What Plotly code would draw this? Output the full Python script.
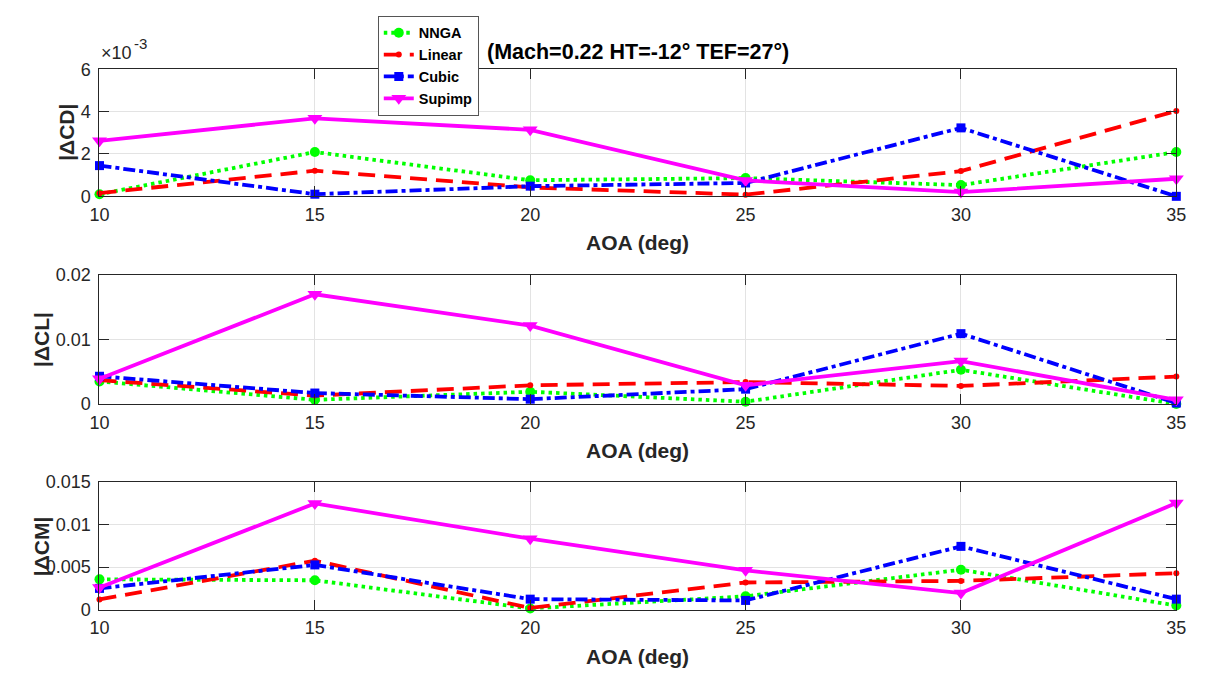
import plotly.graph_objects as go
from plotly.subplots import make_subplots

# ---------------- data ----------------
aoa = [10, 15, 20, 25, 30, 35]
series_names = ["NNGA", "Linear", "Cubic", "Supimp"]

nnga_cd = [0.00010, 0.00209, 0.00076, 0.00086, 0.00053, 0.00209]
linear_cd = [0.00015, 0.00121, 0.00042, 0.00008, 0.00119, 0.00403]
cubic_cd = [0.00145, 0.00010, 0.00048, 0.00063, 0.00323, 0.00000]
supimp_cd = [0.00262, 0.00368, 0.00314, 0.00075, 0.00020, 0.00083]

nnga_cl = [0.0035, 0.00065, 0.0019, 0.00035, 0.0053, 0.0000]
linear_cl = [0.0037, 0.0013, 0.0029, 0.0034, 0.0028, 0.00425]
cubic_cl = [0.0043, 0.0017, 0.00075, 0.0023, 0.0109, 0.00015]
supimp_cl = [0.0039, 0.0170, 0.01215, 0.0029, 0.00665, 0.00065]

nnga_cm = [0.00356, 0.00345, 0.00015, 0.00157, 0.00469, 0.00049]
linear_cm = [0.00120, 0.00574, 0.00020, 0.00319, 0.00338, 0.00428]
cubic_cm = [0.00250, 0.00525, 0.00124, 0.00109, 0.00742, 0.00124]
supimp_cm = [0.00260, 0.01245, 0.00832, 0.00461, 0.00195, 0.01249]

x_ticks = [10, 15, 20, 25, 30, 35]
cd_tickvals = [0, 0.002, 0.004, 0.006]
cd_ticktext = ["0", "2", "4", "6"]
cl_tickvals = [0, 0.01, 0.02]
cl_ticktext = ["0", "0.01", "0.02"]
cm_tickvals = [0, 0.005, 0.01, 0.015]
cm_ticktext = ["0", "0.005", "0.01", "0.015"]

title_text = "(Mach=0.22 HT=-12° TEF=27°)"
x_title = "AOA (deg)"
y_titles = ["|ΔCD|", "|ΔCL|", "|ΔCM|"]

# ---------------- styles ----------------
FONT = "Liberation Sans, Arial, Helvetica, sans-serif"
AX = "#262626"
styles = {
    "NNGA": dict(color="#00FF00", dash="3.5px,4px", symbol="circle", size=10),
    "Linear": dict(color="#FF0000", dash="17px,9px", symbol="circle", size=6),
    "Cubic": dict(color="#0000FF", dash="12px,4px,4px,4px", symbol="square", size=9),
    "Supimp": dict(color="#FF00FF", dash="solid", symbol="triangle-down", size=13),
}

fig = make_subplots(rows=3, cols=1)

panels = [
    [nnga_cd, linear_cd, cubic_cd, supimp_cd],
    [nnga_cl, linear_cl, cubic_cl, supimp_cl],
    [nnga_cm, linear_cm, cubic_cm, supimp_cm],
]

for r, vals in enumerate(panels, start=1):
    for name, y in zip(series_names, vals):
        s = styles[name]
        fig.add_trace(
            go.Scatter(
                x=aoa, y=y, name=name, mode="lines+markers",
                line=dict(color=s["color"], width=3.8, dash=s["dash"]),
                marker=dict(color=s["color"], symbol=s["symbol"], size=s["size"]),
                showlegend=(r == 1), cliponaxis=False,
            ),
            row=r, col=1,
        )

W, H = 1205, 677
XL, XR = 91, 1186
xdom = [XL / W, XR / W]
panel_px = [(61, 192), (273, 406), (486, 618)]
ydoms = [[1 - b / H, 1 - t / H] for (t, b) in panel_px]
yranges = [[0, 0.006], [0, 0.02], [0, 0.015]]
ytv = [cd_tickvals, cl_tickvals, cm_tickvals]
ytt = [cd_ticktext, cl_ticktext, cm_ticktext]

common = dict(
    showline=True, linecolor=AX, linewidth=1, mirror="ticks",
    ticks="inside", ticklen=10, tickcolor=AX, tickwidth=1,
    showgrid=True, gridcolor="#E3E3E3", gridwidth=1, zeroline=False,
    tickfont=dict(family=FONT, size=18, color=AX),
)

for i in range(3):
    xa = "xaxis" if i == 0 else f"xaxis{i+1}"
    ya = "yaxis" if i == 0 else f"yaxis{i+1}"
    fig.layout[xa].update(
        domain=xdom, range=[10, 35], tickvals=x_ticks,
        ticklabelstandoff=2, **common,
    )
    fig.layout[ya].update(
        domain=ydoms[i], range=yranges[i], tickvals=ytv[i], ticktext=ytt[i],
        ticklabelstandoff=4, **common,
    )

annotations = []
# x-axis titles
for (t, b) in panel_px:
    annotations.append(dict(
        text=f"<b>{x_title}</b>", x=(XL + XR) / 2 / W, y=1 - (b + 48) / H,
        xref="paper", yref="paper", showarrow=False, xanchor="center", yanchor="middle",
        font=dict(family=FONT, size=21, color=AX),
    ))
# y-axis titles
ytitle_x = [58, 32, 32]
for (t, b), txt, xp in zip(panel_px, y_titles, ytitle_x):
    annotations.append(dict(
        text=f"<b>{txt}</b>", x=xp / W, y=1 - (t + b) / 2 / H,
        xref="paper", yref="paper", showarrow=False, textangle=-90,
        xanchor="center", yanchor="middle",
        font=dict(family=FONT, size=21, color=AX),
    ))
# exponent label (x10^-3)
annotations.append(dict(
    text="×10", x=90 / W, y=1 - 57 / H, xref="paper", yref="paper",
    showarrow=False, xanchor="left", yanchor="bottom",
    font=dict(family=FONT, size=18, color=AX),
))
annotations.append(dict(
    text="-3", x=124 / W, y=1 - 45 / H, xref="paper", yref="paper",
    showarrow=False, xanchor="left", yanchor="bottom",
    font=dict(family=FONT, size=15, color=AX),
))
# title
annotations.append(dict(
    text=f"<b>{title_text}</b>", x=(XL + XR) / 2 / W, y=1 - 43 / H,
    xref="paper", yref="paper", showarrow=False, xanchor="center", yanchor="middle",
    font=dict(family=FONT, size=21.5, color="#000000"),
))

fig.update_layout(
    width=W, height=H, margin=dict(l=0, r=0, t=0, b=0),
    paper_bgcolor="white", plot_bgcolor="white",
    annotations=annotations,
    legend=dict(
        x=374 / W, y=1 - 6 / H, xanchor="left", yanchor="top",
        bgcolor="white", bordercolor="#555555", borderwidth=1,
        font=dict(family=FONT, size=14.5, color="#000000", weight="bold"),
        itemwidth=30, tracegroupgap=0,
    ),
)

fig.write_html(
    "out.html",
    config={"displayModeBar": False},
    post_script="document.body.style.margin='0';document.body.style.padding='0';",
)
